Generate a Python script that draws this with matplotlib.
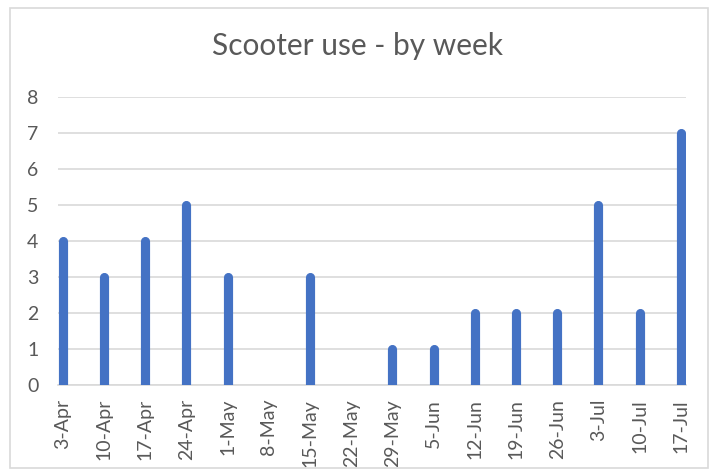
import numpy as np
import matplotlib
matplotlib.use("Agg")
import matplotlib.pyplot as plt
from matplotlib.patches import Rectangle

weeks = ['3-Apr', '10-Apr', '17-Apr', '24-Apr', '1-May', '8-May', '15-May', '22-May',
         '29-May', '5-Jun', '12-Jun', '19-Jun', '26-Jun', '3-Jul', '10-Jul', '17-Jul']
uses = [4, 3, 4, 5, 3, 0, 3, 0, 1, 1, 2, 2, 2, 5, 2, 7]

grey_text = '#595959'
grid_col = '#d9d9d9'
bar_col = '#4472c4'

plt.rcParams['font.family'] = ['Lato', 'DejaVu Sans']

fig = plt.figure(figsize=(7.15, 4.73), dpi=100)
ax = fig.add_axes([0.081, 0.186, 0.878, 0.609])

# chart frame
fig.patches.append(Rectangle((10 / 715, 5 / 473), 698 / 715, 460 / 473,
                             transform=fig.transFigure, fill=False,
                             edgecolor=grid_col, linewidth=1.2))

x = np.arange(len(weeks))
vals = np.array(uses)
nz = vals > 0
# thin columns with rounded tops
ax.vlines(x[nz], 0, vals[nz], colors=bar_col, linewidth=6.6, capstyle='round', zorder=3)

ax.set_xlim(-0.12, len(weeks) - 1 + 0.12)
ax.set_ylim(0, 8)
ax.set_yticks(range(0, 9))
ax.set_xticks(x)
ax.set_xticklabels(weeks, rotation=90)
ax.tick_params(axis='both', length=0, labelsize=14, labelcolor=grey_text)
ax.tick_params(axis='y', pad=14)
ax.tick_params(axis='x', pad=10)

ax.grid(axis='y', color=grid_col, linewidth=1.2, zorder=0)
for s in ['top', 'right', 'left']:
    ax.spines[s].set_visible(False)
ax.spines['bottom'].set_color(grid_col)
ax.spines['bottom'].set_linewidth(1.2)

fig.text(0.5, 1 - 46 / 473, 'Scooter use - by week', ha='center', va='center',
         fontsize=21.5, color=grey_text)

fig.savefig('out.png', dpi=100)
